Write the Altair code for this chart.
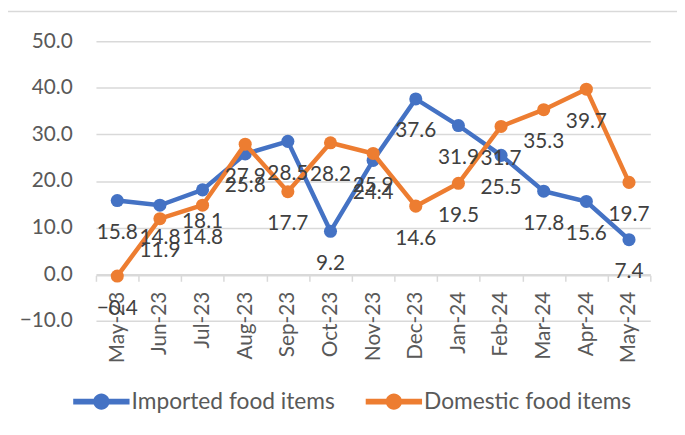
import altair as alt
import pandas as pd

months = ["May-23", "Jun-23", "Jul-23", "Aug-23", "Sep-23", "Oct-23", "Nov-23",
          "Dec-23", "Jan-24", "Feb-24", "Mar-24", "Apr-24", "May-24"]
imported = [15.8, 14.8, 18.1, 25.8, 28.5, 9.2, 24.4, 37.6, 31.9, 25.5, 17.8, 15.6, 7.4]
domestic = [-0.4, 11.9, 14.8, 27.9, 17.7, 28.2, 25.9, 14.6, 19.5, 31.7, 35.3, 39.7, 19.7]
series_names = ["Imported food items", "Domestic food items"]
series_colors = ["#4472C4", "#ED7D31"]
y_ticks = [-10, 0, 10, 20, 30, 40, 50]

rows = []
for m, v in zip(months, imported):
    rows.append({"month": m, "value": v, "series": series_names[0]})
for m, v in zip(months, domestic):
    rows.append({"month": m, "value": v, "series": series_names[1]})
df = pd.DataFrame(rows)

FONT = "Lato"

legend_path = ("M-1,-0.105H1V0.105H-1Z "
               "M0.29,0A0.29,0.29 0 1,1 -0.29,0A0.29,0.29 0 1,1 0.29,0Z")

x_enc = alt.X("month:N", sort=months, title=None,
              scale=alt.Scale(paddingInner=0, paddingOuter=0),
              axis=alt.Axis(labelAngle=-90, offset=-46, domainColor="#D9D9D9",
                            domainWidth=1.5, tickColor="#D9D9D9", tickWidth=1.5,
                            tickSize=6, tickBand="extent", labelPadding=10,
                            labelFont=FONT, labelFontSize=21, labelColor="#595959",
                            grid=False))
y_enc = alt.Y("value:Q", title=None,
              scale=alt.Scale(domain=[-10, 50], nice=False, zero=False),
              axis=alt.Axis(values=y_ticks, format=".1f", domain=False, ticks=False,
                            labelPadding=24, labelFont=FONT, labelFontSize=21,
                            labelColor="#595959", gridColor="#D9D9D9", gridWidth=1.5))
color_enc = alt.Color("series:N", sort=series_names,
                      scale=alt.Scale(domain=series_names, range=series_colors),
                      legend=alt.Legend(title=None, orient="none", direction="horizontal",
                                        legendX=-23, legendY=336,
                                        symbolType=legend_path, symbolSize=3249,
                                        symbolStrokeWidth=0, labelOffset=2,
                                        columnPadding=31, labelFont=FONT,
                                        labelLimit=0,
                                        labelFontSize=23, labelColor="#595959"))

border = alt.Chart(pd.DataFrame({"a": [0]})).mark_rect(
    fill=None, stroke="#D9D9D9", strokeWidth=1.5, clip=False
).encode(x=alt.value(-90), x2=alt.value(640), y=alt.value(-30), y2=alt.value(420))

layers = [border]
for name in series_names:
    base = alt.Chart(df).transform_filter(alt.datum.series == name)
    layers.append(base.mark_line(strokeWidth=4.5).encode(x=x_enc, y=y_enc, color=color_enc))
    layers.append(base.mark_circle(size=175, opacity=1).encode(x=x_enc, y=y_enc, color=color_enc))

labels = alt.Chart(df).mark_text(
    dy=33, font=FONT, fontSize=21, color="#404040", baseline="middle"
).encode(x=x_enc, y=y_enc, text=alt.Text("value:Q", format=".1f"))
layers.append(labels)

chart = alt.layer(*layers).properties(
    width=561, height=283, autosize="none",
    padding={"left": 89, "top": 31, "right": 27, "bottom": 113}
).configure_view(stroke=None)

chart.save("out.html", embed_options={"renderer": "svg", "actions": False})
